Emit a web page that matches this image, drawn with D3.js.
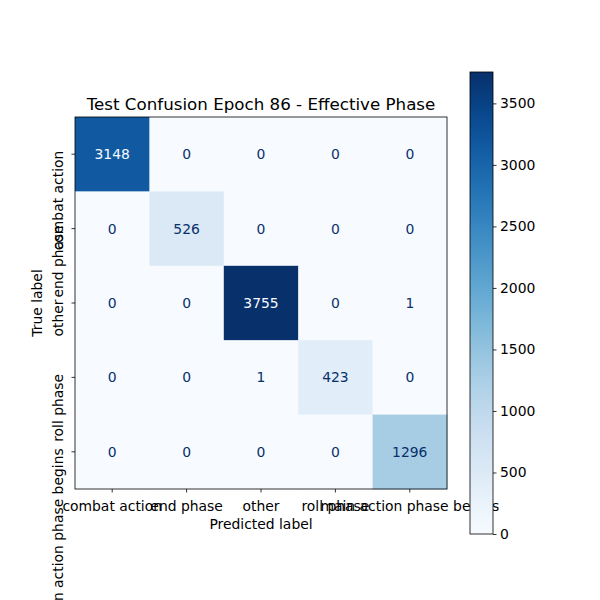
<!DOCTYPE html>
<html>
<head>
<meta charset="utf-8">
<script src="https://cdn.jsdelivr.net/npm/d3@7"></script>
<style>
  body { margin: 0; background: #fff; }
  text { font-family: "DejaVu Sans", sans-serif; }
</style>
</head>
<body>
<svg id="chart" width="600" height="600"></svg>
<script>
const labels = ["combat action", "end phase", "other", "roll phase", "main action phase begins"];
const matrix = [
  [3148, 0, 0, 0, 0],
  [0, 526, 0, 0, 0],
  [0, 0, 3755, 0, 1],
  [0, 0, 1, 423, 0],
  [0, 0, 0, 0, 1296]
];
const colorbarTicks = [0, 500, 1000, 1500, 2000, 2500, 3000, 3500];
const title = "Test Confusion Epoch 86 - Effective Phase";

(function () {
const svg = d3.select("#chart");
svg.append("rect").attr("width", 600).attr("height", 600).attr("fill", "#fff");

const axL = 75, axR = 447, axT = 117, axB = 489;
const x = d3.scaleBand().domain(d3.range(labels.length)).range([axL, axR]);
const y = d3.scaleBand().domain(d3.range(labels.length)).range([axT, axB]);
const vmax = d3.max(matrix.flat()), vmin = d3.min(matrix.flat());
const color = d3.scaleSequential(d3.interpolateBlues).domain([vmin, vmax]);
const thresh = (vmax + vmin) / 2;

const cells = [];
matrix.forEach((row, i) => row.forEach((v, j) => cells.push({i, j, v})));

svg.append("g").selectAll("rect").data(cells).join("rect")
  .attr("x", d => x(d.j)).attr("y", d => y(d.i))
  .attr("width", x.bandwidth() + 0.5).attr("height", y.bandwidth() + 0.5)
  .attr("fill", d => color(d.v));

svg.append("g").selectAll("text").data(cells).join("text")
  .attr("x", d => x(d.j) + x.bandwidth() / 2)
  .attr("y", d => y(d.i) + y.bandwidth() / 2)
  .attr("text-anchor", "middle").attr("dominant-baseline", "central")
  .attr("font-size", "13.9px")
  .attr("fill", d => d.v < thresh ? d3.interpolateBlues(1) : d3.interpolateBlues(0))
  .text(d => d.v);

// x axis
const xAxis = svg.append("g").attr("transform", `translate(0,${axB})`)
  .call(d3.axisBottom(x).tickSize(3.5).tickPadding(3.5).tickFormat(i => labels[i]));
xAxis.select(".domain").remove();
xAxis.selectAll("text").attr("font-size", "13.9px").attr("fill", "#000").attr("font-family", "DejaVu Sans")
  .attr("dy", null).attr("y", 21.5);
xAxis.selectAll("line").attr("stroke", "#000").attr("stroke-width", 0.8);

// y axis
const yAxis = svg.append("g").attr("transform", `translate(${axL},0)`)
  .call(d3.axisLeft(y).tickSize(3.5).tickPadding(3.5).tickFormat(i => labels[i]));
yAxis.select(".domain").remove();
yAxis.selectAll("line").attr("stroke", "#000").attr("stroke-width", 0.8);
yAxis.selectAll("text")
  .attr("font-size", "13.9px").attr("fill", "#000").attr("font-family", "DejaVu Sans")
  .attr("dy", null).attr("y", null)
  .attr("x", 3.5)
  .attr("text-anchor", "end")
  .attr("transform", "translate(-12,0) rotate(-90)");

// frame
svg.append("rect").attr("x", axL).attr("y", axT).attr("width", axR - axL).attr("height", axB - axT)
  .attr("fill", "none").attr("stroke", "#000").attr("stroke-width", 0.8);

// axis labels
svg.append("text").attr("x", (axL + axR) / 2).attr("y", 529)
  .attr("text-anchor", "middle").attr("font-size", "13.9px").text("Predicted label");
svg.append("text").attr("transform", `translate(42,${(axT + axB) / 2}) rotate(-90)`)
  .attr("text-anchor", "middle").attr("font-size", "13.9px").text("True label");

// title
svg.append("text").attr("x", (axL + axR) / 2).attr("y", 110)
  .attr("text-anchor", "middle").attr("font-size", "16.7px").text(title);

// colorbar
const cbX = 470, cbW = 23, cbTop = 72, cbBottom = 534;
const cbScale = d3.scaleLinear().domain([vmin, vmax]).range([cbBottom, cbTop]);
const defs = svg.append("defs");
const grad = defs.append("linearGradient").attr("id", "cbgrad")
  .attr("x1", 0).attr("y1", 1).attr("x2", 0).attr("y2", 0);
d3.range(0, 1.0001, 0.05).forEach(t => {
  grad.append("stop").attr("offset", t).attr("stop-color", d3.interpolateBlues(t));
});
svg.append("rect").attr("x", cbX).attr("y", cbTop).attr("width", cbW).attr("height", cbBottom - cbTop)
  .attr("fill", "url(#cbgrad)").attr("stroke", "#000").attr("stroke-width", 0.8);
const cbAxis = svg.append("g").attr("transform", `translate(${cbX + cbW},0)`)
  .call(d3.axisRight(cbScale).tickValues(colorbarTicks).tickSize(3.5).tickPadding(3.5).tickFormat(d3.format("d")));
cbAxis.select(".domain").remove();
cbAxis.selectAll("line").attr("stroke", "#000").attr("stroke-width", 0.8);
cbAxis.selectAll("text").attr("font-size", "13.9px").attr("fill", "#000").attr("font-family", "DejaVu Sans");
})();
</script>
</body>
</html>
